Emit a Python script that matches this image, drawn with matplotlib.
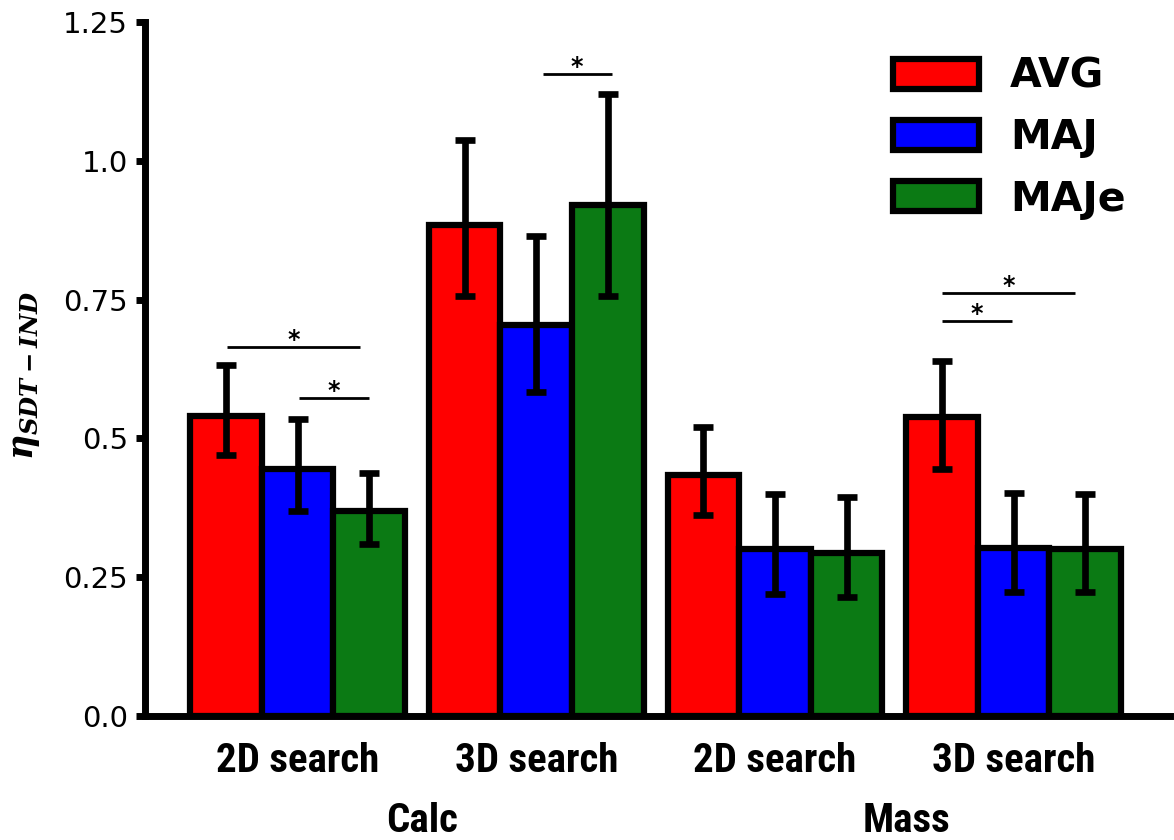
import matplotlib
matplotlib.use("Agg")
import matplotlib.pyplot as plt
import matplotlib.transforms as mtransforms
import numpy as np

# ---- data ----
groups = ["2D search", "3D search", "2D search", "3D search"]
modalities = ["Calc", "Mass"]
series = ["AVG", "MAJ", "MAJe"]
colors = ["#ff0000", "#0000ff", "#0b7a14"]

avg_vals = [0.541, 0.885, 0.434, 0.538]
avg_hi = [0.633, 1.037, 0.521, 0.640]
avg_lo = [0.470, 0.756, 0.362, 0.445]

maj_vals = [0.444, 0.705, 0.300, 0.302]
maj_hi = [0.535, 0.864, 0.400, 0.401]
maj_lo = [0.369, 0.584, 0.220, 0.223]

maje_vals = [0.370, 0.920, 0.294, 0.301]
maje_hi = [0.438, 1.120, 0.394, 0.400]
maje_lo = [0.309, 0.757, 0.215, 0.223]

ytick_vals = [0.0, 0.25, 0.5, 0.75, 1.0, 1.25]
ytick_labels = ["0.0", "0.25", "0.5", "0.75", "1.0", "1.25"]

# significance brackets: (x_start, x_end, y)
sig_x1 = [-0.295, 0.006, 1.027, 2.700, 2.700]
sig_x2 = [0.262, 0.300, 1.316, 2.994, 3.258]
sig_y = [0.665, 0.572, 1.156, 0.712, 0.762]

# ---- plot ----
plt.rcParams['mathtext.fontset'] = 'custom'
plt.rcParams['mathtext.it'] = 'DejaVu Serif:italic:bold'
plt.rcParams['mathtext.rm'] = 'DejaVu Serif:bold'
plt.rcParams['mathtext.bf'] = 'DejaVu Serif:bold'

label_font = ['Roboto Condensed', 'Roboto', 'DejaVu Sans']

fig = plt.figure(figsize=(11.74, 8.40), dpi=100)
ax = fig.add_axes([145/1174, 1 - 716/840, (1170 - 145)/1174, (716 - 22)/840])

x = np.arange(len(groups))
width = 0.3
vals_all = [avg_vals, maj_vals, maje_vals]
hi_all = [avg_hi, maj_hi, maje_hi]
lo_all = [avg_lo, maj_lo, maje_lo]
for i, (name, col) in enumerate(zip(series, colors)):
    v = np.array(vals_all[i])
    hi = np.array(hi_all[i])
    lo = np.array(lo_all[i])
    xi = x + (i - 1) * width
    ax.bar(xi, v, width=width, color=col, edgecolor='black', linewidth=4.5,
           label=name, zorder=2)
    ax.errorbar(xi, v, yerr=[v - lo, hi - v], fmt='none', ecolor='black',
                elinewidth=4.8, capsize=7.5, capthick=4.8, zorder=3)

for x1, x2, y in zip(sig_x1, sig_x2, sig_y):
    ax.plot([x1, x2], [y, y], color='black', linewidth=2, solid_capstyle='butt', zorder=4)
    ax.annotate('*', xy=((x1 + x2) / 2, y), xytext=(0, 0), textcoords='offset points',
                ha='center', va='baseline', fontsize=17, fontweight='bold')

ax.set_xlim(-0.639, 3.655)
ax.set_ylim(0, 1.25)
ax.set_yticks(ytick_vals)
ax.set_yticklabels(ytick_labels, fontsize=21)
ax.set_xticks(x)
ax.set_xticklabels(groups, fontsize=29.5, fontweight='bold', family=label_font)
ax.tick_params(axis='x', length=0, pad=19)
ax.tick_params(axis='y', length=6.5, width=5, pad=5.8)

for s in ['top', 'right']:
    ax.spines[s].set_visible(False)
for s in ['left', 'bottom']:
    ax.spines[s].set_linewidth(5)

ax.set_ylabel(r'$\eta_{SDT-IND}$', fontsize=25)
ax.yaxis.set_label_coords(-0.1, 0.491)

# modality labels
trans = mtransforms.blended_transform_factory(ax.transData, fig.transFigure)
mod_x = [0.52, 2.55]
for mx, m in zip(mod_x, modalities):
    ax.text(mx, 0.5/840, m, transform=trans, ha='center', va='bottom',
            fontsize=29.5, fontweight='bold', family=label_font)

leg = ax.legend(loc='upper left', bbox_to_anchor=(893/1174, 1 - 57/840),
                bbox_transform=fig.transFigure, frameon=False,
                prop={'size': 29.5, 'weight': 'bold'}, borderpad=0,
                handlelength=2.1, handleheight=0.75, handletextpad=0.75,
                labelspacing=0.52, borderaxespad=0)

fig.savefig('out.png', dpi=100)
